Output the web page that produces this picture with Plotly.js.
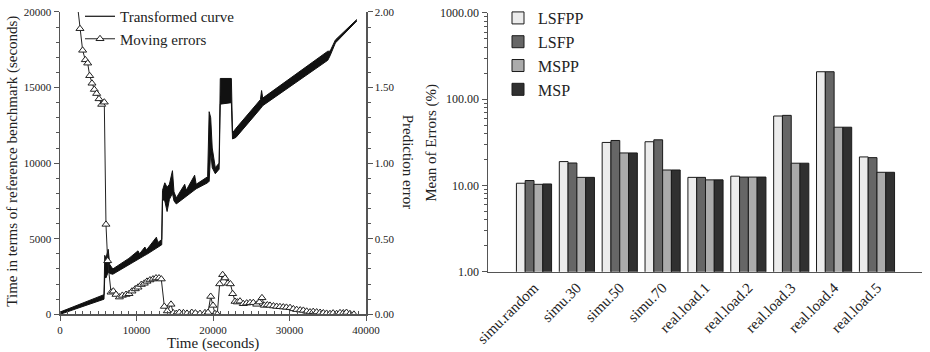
<!DOCTYPE html>
<html>
<head>
<meta charset="utf-8">
<script src="https://cdn.plot.ly/plotly-3.0.1.min.js"></script>
<style>html,body{margin:0;padding:0;background:#fff;}#chart{width:930px;height:352px;}</style>
</head>
<body>
<div id="chart"></div>
<script>
// ---- Left chart: transformed curve (noisy band: lower / upper envelope) ----
const tcTime = [0, 5750, 5850, 6000, 6300, 6500, 6900, 9000, 10200, 10400, 11100, 11300, 12600, 12800, 13300,
  13400, 13700, 14000, 14300, 14700, 14900, 15200, 16300, 16500, 17600, 17800, 19300, 19500, 19700, 19900,
  20300, 20800, 20950, 22400, 22550, 23000, 26200, 26350, 26500, 35000, 35300, 36000, 38800];
const tcLow  = [0, 1000, 2500, 2400, 2800, 2700, 2650, 3300, 3650, 3700, 3900, 3950, 4350, 4450, 4600,
  7600, 7500, 6800, 7600, 8000, 7500, 7300, 7700, 7800, 8200, 8300, 8700, 8800, 10800, 9700,
  9300, 9600, 13900, 14000, 11600, 11700, 13600, 13700, 13800, 16800, 17100, 17950, 19400];
const tcHigh = [150, 1300, 3900, 3700, 4300, 3300, 3000, 3700, 4200, 4000, 4450, 4250, 5100, 4750, 4950,
  8200, 8700, 8400, 8600, 9500, 8100, 7700, 8600, 8200, 9200, 8600, 9100, 13400, 13000, 11000,
  9700, 10000, 15600, 15600, 12000, 12300, 14200, 14800, 14300, 17400, 17400, 18150, 19500];

// ---- Left chart: moving errors (right axis) ----
const meTime = [2250, 2610, 2960, 3310, 3620, 3880, 4180, 4490, 4790, 5100, 5450, 5790, 6010, 6230, 6670, 6970,
  7320, 7760, 8150, 8630, 9020, 9410, 9840, 10200, 10630, 11020, 11370, 11760, 12160, 12550, 12940, 13240,
  13640, 14030, 14510, 14810, 15200, 15600, 16130, 16600, 17220, 17700, 18300, 18950, 19350, 19700, 20000,
  20260, 20560, 20870, 21260, 21570, 21960, 22270, 22570, 22880, 23180, 23530, 23960, 24400, 24840, 25270,
  25710, 26060, 26400, 26710, 27100, 27450, 27900, 28320, 28750, 29190, 29600, 30070, 30500, 30940, 31400,
  31810, 32250, 32680, 33100, 33550, 34000, 34420, 34850, 35290, 35700, 36160, 36600, 37030, 37450, 37900, 38420];
const meValue = [2.06, 1.889, 1.746, 1.683, 1.661, 1.578, 1.528, 1.487, 1.460, 1.425, 1.388, 1.403, 0.595, 0.354, 0.146, 0.153,
  0.131, 0.114, 0.125, 0.131, 0.136, 0.153, 0.168, 0.179, 0.197, 0.205, 0.218, 0.227, 0.233, 0.240, 0.240, 0.233,
  0.052, 0.022, 0.066, 0.009, 0.005, 0.012, 0.010, 0.006, 0.012, 0.008, 0.005, 0.010, 0.012, 0.118, 0.059,
  0.004, 0.000, 0.201, 0.262, 0.240, 0.205, 0.201, 0.136, 0.085, 0.081, 0.087, 0.070, 0.074, 0.077, 0.077,
  0.066, 0.081, 0.109, 0.059, 0.062, 0.059, 0.055, 0.052, 0.050, 0.048, 0.046, 0.044, 0.036, 0.031, 0.028,
  0.026, 0.020, 0.015, 0.018, 0.015, 0.012, 0.009, 0.006, 0.004, 0.008, 0.004, 0.010, 0.009, 0.012, 0.004, 0.000];

// ---- Right chart: mean of errors (%) ----
const categories = ['simu.random', 'simu.30', 'simu.50', 'simu.70', 'real.load.1', 'real.load.2', 'real.load.3', 'real.load.4', 'real.load.5'];
const seriesNames = ['LSFPP', 'LSFP', 'MSPP', 'MSP'];
const LSFPP = [10.6, 18.9, 31.5, 32.1, 12.4, 12.8, 63.8, 208, 21.4];
const LSFP  = [11.4, 18.2, 33.2, 33.8, 12.4, 12.5, 64.9, 208, 21.0];
const MSPP  = [10.3, 12.4, 23.8, 15.1, 11.6, 12.5, 18.1, 47.3, 14.2];
const MSP   = [10.4, 12.4, 23.8, 15.1, 11.6, 12.5, 18.1, 47.3, 14.2];
const barColors = ['#ececec', '#666666', '#ababab', '#303030'];

const SERIF = 'Liberation Serif, Times New Roman, serif';
const AX = '#555';
const TXT = '#222';

const traces = [
  {type: 'scatter', mode: 'lines', name: 'Transformed curve', x: [null], y: [null],
   line: {color: '#111', width: 1.2}, xaxis: 'x', yaxis: 'y', legend: 'legend'},
  {type: 'scatter', mode: 'lines', x: tcTime, y: tcLow, showlegend: false, hoverinfo: 'skip',
   line: {color: '#111', width: 1}, xaxis: 'x', yaxis: 'y'},
  {type: 'scatter', mode: 'lines', x: tcTime, y: tcHigh, showlegend: false, hoverinfo: 'skip',
   fill: 'tonexty', fillcolor: '#111', line: {color: '#111', width: 1}, xaxis: 'x', yaxis: 'y'},
  {type: 'scatter', mode: 'lines+markers', name: 'Moving errors', x: meTime, y: meValue,
   line: {color: '#222', width: 1},
   marker: {symbol: 'triangle-up', size: 7, color: '#fff', line: {color: '#222', width: 1}},
   xaxis: 'x', yaxis: 'y2', legend: 'legend'}
];
const seriesVals = [LSFPP, LSFP, MSPP, MSP];
seriesNames.forEach((n, i) => {
  traces.push({type: 'bar', name: n, x: categories, y: seriesVals[i], xaxis: 'x2', yaxis: 'y3',
    marker: {color: barColors[i], line: {color: '#1a1a1a', width: 1}}, legend: 'legend2'});
});

const tickfontL = {family: SERIF, size: 11, color: TXT};
const layout = {
  width: 930, height: 352,
  margin: {l: 0, r: 0, t: 0, b: 0},
  paper_bgcolor: '#fff', plot_bgcolor: 'rgba(0,0,0,0)',
  showlegend: true,
  barmode: 'group', bargap: 0.18, bargroupgap: 0,
  xaxis: {domain: [60/930, 366/930], range: [0, 40000], anchor: 'y', showline: true, linecolor: AX, linewidth: 1.5,
    ticks: 'outside', ticklen: 5, tickcolor: AX, dtick: 10000, tick0: 0, tickformat: 'd',
    minor: {dtick: 1000, ticks: 'inside', ticklen: 3, tickcolor: AX},
    showgrid: false, zeroline: false, tickfont: tickfontL},
  yaxis: {domain: [38/352, 343/352], range: [0, 20000], anchor: 'x', showline: true, linecolor: AX, linewidth: 1.5,
    ticks: 'outside', ticklen: 5, tickcolor: AX, dtick: 5000, tick0: 0, tickformat: 'd',
    minor: {dtick: 1000, ticks: 'outside', ticklen: 3, tickcolor: AX},
    showgrid: false, zeroline: false, tickfont: tickfontL},
  yaxis2: {overlaying: 'y', side: 'right', anchor: 'x', range: [0, 2], showline: true, linecolor: AX, linewidth: 1.5,
    ticks: 'outside', ticklen: 5, tickcolor: AX, dtick: 0.5, tick0: 0, tickformat: '.2f',
    minor: {dtick: 0.1, ticks: 'outside', ticklen: 3, tickcolor: AX},
    showgrid: false, zeroline: false, tickfont: tickfontL},
  xaxis2: {domain: [488/930, 922/930], type: 'category', range: [-1.073, 9.05], anchor: 'y3',
    showline: true, linecolor: AX, linewidth: 1.5, ticks: '', tickangle: -45,
    showgrid: false, zeroline: false, tickfont: {family: SERIF, size: 15, color: TXT}},
  yaxis3: {domain: [81/352, 342/352], type: 'log', range: [0, 3], anchor: 'x2', showline: true, linecolor: AX, linewidth: 1.5,
    ticks: 'outside', ticklen: 5, tickcolor: AX, dtick: 1, tickformat: '.2f',
    minor: {dtick: 'D1', ticks: 'outside', ticklen: 3, tickcolor: AX},
    showgrid: false, zeroline: false, tickfont: {family: SERIF, size: 12, color: TXT}},
  legend: {x: 80/930, y: 1 + 3/352, xanchor: 'left', yanchor: 'top', bgcolor: 'rgba(0,0,0,0)',
    font: {family: SERIF, size: 15, color: TXT}, traceorder: 'normal'},
  legend2: {x: 498/930, y: 1 + 2/352, xanchor: 'left', yanchor: 'top', bgcolor: 'rgba(0,0,0,0)',
    font: {family: SERIF, size: 16, color: TXT}, traceorder: 'normal'},
  annotations: [
    {text: 'Time (seconds)', xref: 'paper', yref: 'paper', x: 213/930, y: 1 - 343/352, showarrow: false,
     xanchor: 'center', yanchor: 'middle', font: {family: SERIF, size: 15, color: TXT}},
    {text: 'Time in terms of reference benchmark (seconds)', xref: 'paper', yref: 'paper', x: 13/930, y: 1 - 160/352,
     showarrow: false, textangle: -90, xanchor: 'center', yanchor: 'middle', font: {family: SERIF, size: 15, color: TXT}},
    {text: 'Prediction error', xref: 'paper', yref: 'paper', x: 408/930, y: 1 - 160/352,
     showarrow: false, textangle: 90, xanchor: 'center', yanchor: 'middle', font: {family: SERIF, size: 15, color: TXT}},
    {text: 'Mean of Errors (%)', xref: 'paper', yref: 'paper', x: 432/930, y: 1 - 141/352,
     showarrow: false, textangle: -90, xanchor: 'center', yanchor: 'middle', font: {family: SERIF, size: 15, color: TXT}}
  ]
};

Plotly.newPlot('chart', traces, layout, {staticPlot: true, displayModeBar: false});
</script>
</body>
</html>
